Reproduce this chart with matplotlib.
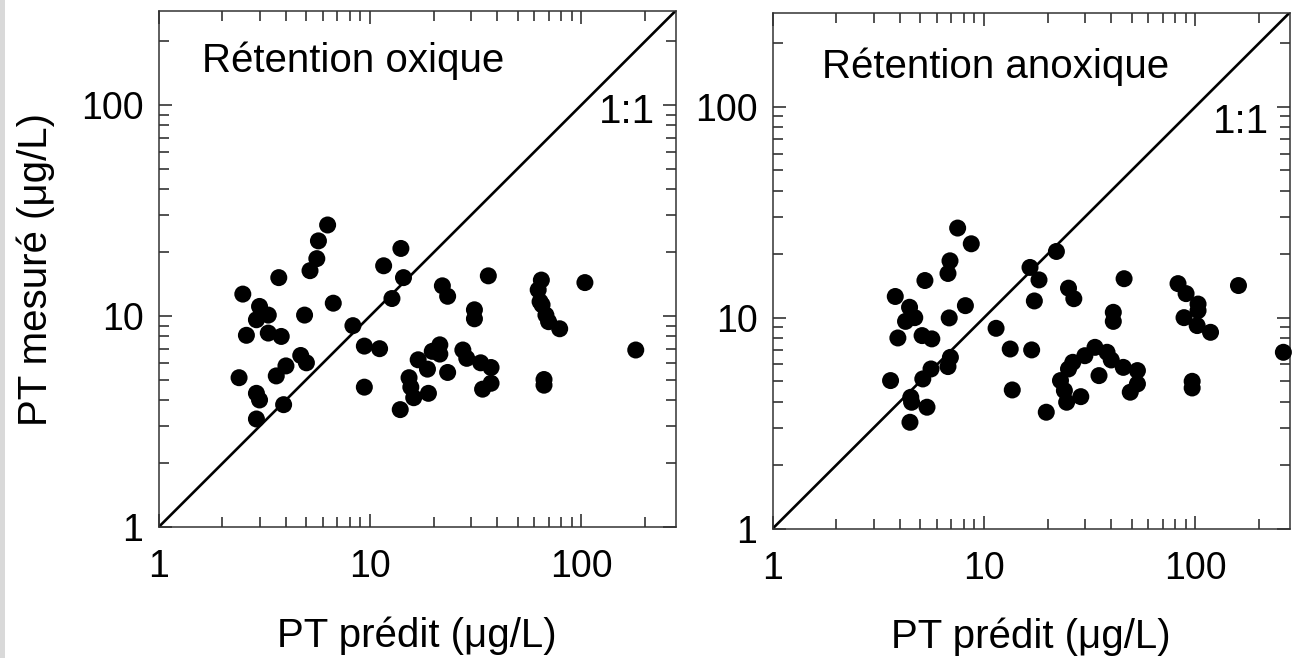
import matplotlib
matplotlib.use('Agg')
import matplotlib.pyplot as plt
from matplotlib.patches import Rectangle
from matplotlib.ticker import LogLocator, FuncFormatter, NullFormatter

plt.rcParams['font.family'] = ['Liberation Sans', 'DejaVu Sans']

# Rétention oxique: PT prédit (x) vs PT mesuré (y)
ox_pred = [6.3, 5.7, 5.6, 5.2, 3.7, 2.5, 3.0, 3.3, 2.9, 4.9, 6.7, 14.0, 11.6, 14.4,
           12.7, 8.3, 22.0, 23.3, 36.3, 31.2, 31.2, 64.7, 62.5, 63.8, 65.2, 68.0,
           70.0, 79.0, 104, 181, 2.6, 3.3, 3.8, 9.4, 11.1, 4.7, 5.0, 2.4, 2.9, 3.0,
           2.9, 3.6, 4.0, 3.9, 9.4, 16.9, 18.7, 19.7, 21.4, 21.4, 23.3, 15.3, 15.6,
           16.1, 18.9, 13.9, 27.5, 28.7, 33.4, 37.4, 37.4, 34.1, 66.6, 66.6]
ox_mes = [27.0, 22.7, 18.7, 16.4, 15.2, 12.7, 11.1, 10.1, 9.6, 10.1, 11.5, 20.9, 17.3,
          15.2, 12.1, 9.0, 13.9, 12.4, 15.5, 10.7, 9.7, 14.8, 13.3, 11.7, 11.3, 10.1,
          9.4, 8.7, 14.4, 6.9, 8.1, 8.3, 8.0, 7.2, 7.0, 6.5, 6.0, 5.1, 4.3, 4.0,
          3.25, 5.2, 5.8, 3.8, 4.6, 6.2, 5.6, 6.8, 7.3, 6.6, 5.4, 5.1, 4.6,
          4.1, 4.3, 3.6, 6.9, 6.3, 6.0, 5.7, 4.8, 4.5, 5.0, 4.7]

# Rétention anoxique
an_pred = [7.5, 8.7, 22.0, 6.9, 6.75, 16.5, 18.2, 5.25, 46.0, 82.8, 160, 3.8, 90.4,
           25.1, 26.6, 17.3, 4.44, 8.16, 103, 103, 40.9, 40.9, 4.7, 6.84, 4.25,
           11.4, 88.4, 102, 118, 3.91, 5.09, 5.66, 13.3, 16.8, 6.93, 6.75, 3.61,
           5.13, 5.61, 4.50, 4.54, 4.46, 5.37, 13.6, 19.7, 23.0, 24.0, 24.6, 28.7,
           26.3, 25.1, 30.0, 33.5, 38.2, 40.0, 35.0, 45.6, 53.2, 53.2, 49.2, 96.6,
           96.6, 261]
an_mes = [26.6, 22.4, 20.6, 18.6, 16.2, 17.3, 15.1, 15.0, 15.3, 14.5, 14.2, 12.6, 13.0,
          13.8, 12.3, 12.0, 11.2, 11.4, 11.6, 10.8, 10.6, 9.6, 10.0, 9.97, 9.6,
          8.9, 10.0, 9.17, 8.52, 8.01, 8.22, 7.93, 7.1, 7.03, 6.48, 5.86, 5.03,
          5.12, 5.71, 4.19, 3.97, 3.19, 3.76, 4.54, 3.56, 5.03, 4.51, 3.97, 4.22,
          6.14, 5.71, 6.6, 7.23, 6.85, 6.30, 5.31, 5.81, 5.61, 4.85, 4.43, 4.99,
          4.64, 6.85]

lims = [1, 280]
titles = ['Rétention oxique', 'Rétention anoxique']

fig = plt.figure(figsize=(13.14, 6.58), dpi=100)
# faint grey strip on the left edge, as in the scanned original
fig.patches.append(Rectangle((0, 0), 5 / 1314, 1, transform=fig.transFigure,
                             facecolor='#d9d9d9', edgecolor='none'))

ax1 = fig.add_axes([0.1208, 0.1991, 0.3935, 0.7847])
ax2 = fig.add_axes([0.5881, 0.1968, 0.3935, 0.7842])

panels = [(ax1, ox_pred, ox_mes, titles[0], (0.0845, 0.882), (0.96, 0.782)),
          (ax2, an_pred, an_mes, titles[1], (0.0951, 0.874), (0.96, 0.766))]

for ax, xp, ym, title, tpos, rpos in panels:
    ax.set_xscale('log')
    ax.set_yscale('log')
    ax.set_xlim(lims)
    ax.set_ylim(lims)

    # 1:1 line
    ax.plot(lims, lims, color='black', lw=1.9, zorder=2)
    ax.scatter(xp, ym, s=150, color='black', edgecolors='none', zorder=3, clip_on=False)

    ax.text(tpos[0], tpos[1], title, transform=ax.transAxes, fontsize=29, va='baseline', ha='left')
    ax.text(rpos[0], rpos[1], '1:1', transform=ax.transAxes, fontsize=29, va='baseline', ha='right')

    for axis in (ax.xaxis, ax.yaxis):
        axis.set_major_locator(LogLocator(base=10, numticks=10))
        axis.set_minor_locator(LogLocator(base=10, subs=range(2, 10), numticks=10))
        axis.set_major_formatter(FuncFormatter(lambda v, p: f'{v:g}'))
        axis.set_minor_formatter(NullFormatter())

    ax.tick_params(which='both', direction='in', top=True, right=True, width=1.1, colors='#222222')
    ax.tick_params(which='major', length=9.6, labelsize=27, labelcolor='black')
    ax.tick_params(which='minor', length=7.4)
    ax.tick_params(axis='x', which='major', pad=16)
    ax.tick_params(axis='y', which='major', pad=11)
    for sp in ax.spines.values():
        sp.set_linewidth(1.1)
        sp.set_color('#333333')

# axis labels
fig.text(0.3174, 0.0167, 'PT prédit (μg/L)', fontsize=29, ha='center', va='baseline')
fig.text(0.7848, 0.0152, 'PT prédit (μg/L)', fontsize=29, ha='center', va='baseline')
fig.text(36 / 1314, (658 - 270) / 658, 'PT mesuré (μg/L)', fontsize=29,
         rotation=90, ha='center', va='center')

plt.savefig('out.png', dpi=100)
